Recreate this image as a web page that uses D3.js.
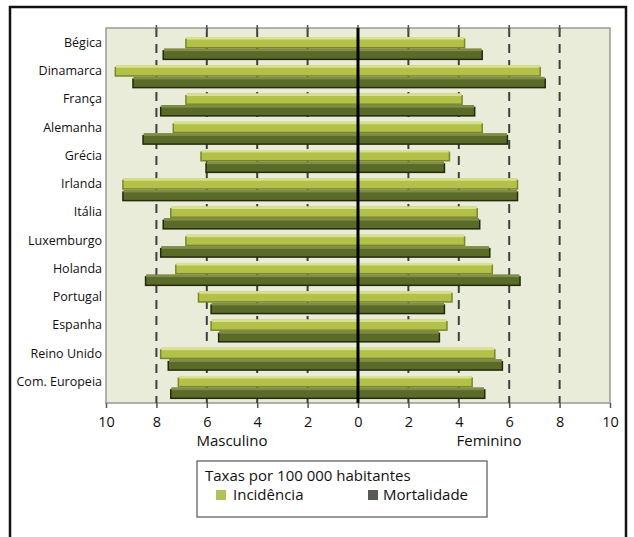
<!DOCTYPE html>
<html>
<head>
<meta charset="utf-8">
<script src="https://cdn.jsdelivr.net/npm/d3@7"></script>
<style>
  body { margin: 0; background: #fff; }
  text { font-family: "Open Sans", "Noto Sans", sans-serif; }
</style>
</head>
<body>
<svg id="chart" width="634" height="537"></svg>
<script>
// Cancer rates per 100 000 inhabitants, by country and sex
const countries = ["Bégica", "Dinamarca", "França", "Alemanha", "Grécia", "Irlanda", "Itália",
  "Luxemburgo", "Holanda", "Portugal", "Espanha", "Reino Unido", "Com. Europeia"];
const incidenciaMasculino  = [6.8, 9.6, 6.8, 7.3, 6.2, 9.3, 7.4, 6.8, 7.2, 6.3, 5.8, 7.8, 7.1];
const mortalidadeMasculino = [7.7, 8.9, 7.8, 8.5, 6.0, 9.3, 7.7, 7.8, 8.4, 5.8, 5.5, 7.5, 7.4];
const incidenciaFeminino   = [4.2, 7.2, 4.1, 4.9, 3.6, 6.3, 4.7, 4.2, 5.3, 3.7, 3.5, 5.4, 4.5];
const mortalidadeFeminino  = [4.9, 7.4, 4.6, 5.9, 3.4, 6.3, 4.8, 5.2, 6.4, 3.4, 3.2, 5.7, 5.0];
const seriesNames = ["Incidência", "Mortalidade"];
const tickValues = [-10, -8, -6, -4, -2, 0, 2, 4, 6, 8, 10];
const sideLabels = ["Masculino", "Feminino"];
const legendTitle = "Taxas por 100 000 habitantes";

const svg = d3.select("#chart");

// outer frame
svg.append("rect")
  .attr("x", 10).attr("y", 7).attr("width", 616).attr("height", 540)
  .attr("fill", "#fff").attr("stroke", "#111").attr("stroke-width", 2.5);

const plot = { left: 106, right: 610, top: 28, bottom: 403 };

const x = d3.scaleLinear().domain([-10, 10]).range([plot.left, plot.right]);
const y = d3.scaleBand().domain(countries)
  .range([34.2, 401.4]).paddingInner(0.2).paddingOuter(0.1);
const ySub = d3.scaleBand().domain(seriesNames)
  .range([0, y.bandwidth()]).paddingInner(0.06);

const styles = {
  "Incidência":  { main: "#b3c149", light: "#d9e08f", edge: "#7a872c" },
  "Mortalidade": { main: "#5a6a28", light: "#7f8d47", edge: "#232a0c" }
};

// plot background
svg.append("rect")
  .attr("x", plot.left).attr("y", plot.top)
  .attr("width", plot.right - plot.left).attr("height", plot.bottom - plot.top)
  .attr("fill", "#e9ecd8").attr("stroke", "#9a9a92").attr("stroke-width", 1.5);

// dashed grid lines
svg.append("g").selectAll("line")
  .data(tickValues.filter(t => Math.abs(t) !== 10 && t !== 0))
  .join("line")
  .attr("x1", d => x(d)).attr("x2", d => x(d))
  .attr("y1", plot.top).attr("y2", plot.bottom)
  .attr("stroke", "#3f3f3f").attr("stroke-width", 2)
  .attr("stroke-dasharray", "9,7");

// top tick marks
svg.append("g").selectAll("line")
  .data(tickValues.filter(t => Math.abs(t) !== 10))
  .join("line")
  .attr("x1", d => x(d)).attr("x2", d => x(d))
  .attr("y1", plot.top - 3).attr("y2", plot.top + 4)
  .attr("stroke", "#555").attr("stroke-width", 1.5);

// flattened bar records
const bars = [];
countries.forEach((c, i) => {
  bars.push({ country: c, series: "Incidência", value: -incidenciaMasculino[i] });
  bars.push({ country: c, series: "Mortalidade", value: -mortalidadeMasculino[i] });
  bars.push({ country: c, series: "Incidência", value: incidenciaFeminino[i] });
  bars.push({ country: c, series: "Mortalidade", value: mortalidadeFeminino[i] });
});

const barG = svg.append("g");
const bx = d => Math.min(x(0), x(d.value));
const bw = d => Math.abs(x(d.value) - x(0));
const by = d => y(d.country) + ySub(d.series);
const bh = ySub.bandwidth() - 1;

// shadow / bevel
barG.selectAll("rect.shadow").data(bars).join("rect")
  .attr("class", "shadow")
  .attr("x", d => bx(d) + (d.value < 0 ? -1.5 : 0))
  .attr("y", d => by(d) + 1.5)
  .attr("width", d => bw(d) + 1.5)
  .attr("height", bh)
  .attr("fill", d => styles[d.series].edge);
// main body
barG.selectAll("rect.body").data(bars).join("rect")
  .attr("class", "body")
  .attr("x", bx).attr("y", by)
  .attr("width", bw).attr("height", bh)
  .attr("fill", d => styles[d.series].main);
// top highlight
barG.selectAll("rect.hi").data(bars).join("rect")
  .attr("class", "hi")
  .attr("x", bx).attr("y", by)
  .attr("width", bw).attr("height", 2.5)
  .attr("fill", d => styles[d.series].light);

// zero line
svg.append("line")
  .attr("x1", x(0)).attr("x2", x(0))
  .attr("y1", plot.top).attr("y2", plot.bottom)
  .attr("stroke", "#000").attr("stroke-width", 3);

// country labels
svg.append("g").selectAll("text").data(countries).join("text")
  .attr("x", plot.left - 4)
  .attr("y", d => y(d) + ySub("Incidência") + ySub.bandwidth() / 2)
  .attr("dy", "0.35em")
  .attr("text-anchor", "end")
  .attr("font-size", 12.5)
  .attr("fill", "#111")
  .text(d => d);

// bottom axis
const axis = d3.axisBottom(x)
  .tickValues(tickValues)
  .tickFormat(d => Math.abs(d))
  .tickSize(5).tickPadding(9);
const axG = svg.append("g").attr("transform", `translate(0,${plot.bottom})`).call(axis);
axG.select(".domain").remove();
axG.selectAll(".tick line").attr("stroke", "#555").attr("stroke-width", 1.5);
axG.selectAll(".tick text")
  .attr("font-size", 14.5).attr("fill", "#111")
  .attr("font-family", "'Open Sans', sans-serif");

// side labels
svg.append("g").selectAll("text").data(sideLabels).join("text")
  .attr("x", (d, i) => i === 0 ? x(-5) : x(5.2))
  .attr("y", 446)
  .attr("text-anchor", "middle")
  .attr("font-size", 15)
  .attr("fill", "#111")
  .text(d => d);

// legend
const lg = svg.append("g");
lg.append("rect")
  .attr("x", 197).attr("y", 461).attr("width", 290).attr("height", 56)
  .attr("fill", "#fff").attr("stroke", "#555").attr("stroke-width", 1.2);
lg.append("text")
  .attr("x", 205).attr("y", 481)
  .attr("font-size", 15).attr("fill", "#111")
  .text(legendTitle);
const legendColors = { "Incidência": "#b2c15c", "Mortalidade": "#575b56" };
const legendX = [216, 368];
const items = lg.selectAll("g.item").data(seriesNames).join("g")
  .attr("class", "item")
  .attr("transform", (d, i) => `translate(${legendX[i]},0)`);
items.append("rect")
  .attr("x", 0).attr("y", 490).attr("width", 10).attr("height", 10)
  .attr("fill", d => legendColors[d]);
items.append("text")
  .attr("x", (d, i) => i === 0 ? 17 : 15).attr("y", 500)
  .attr("font-size", 15).attr("fill", "#111")
  .text(d => d);
</script>
</body>
</html>
